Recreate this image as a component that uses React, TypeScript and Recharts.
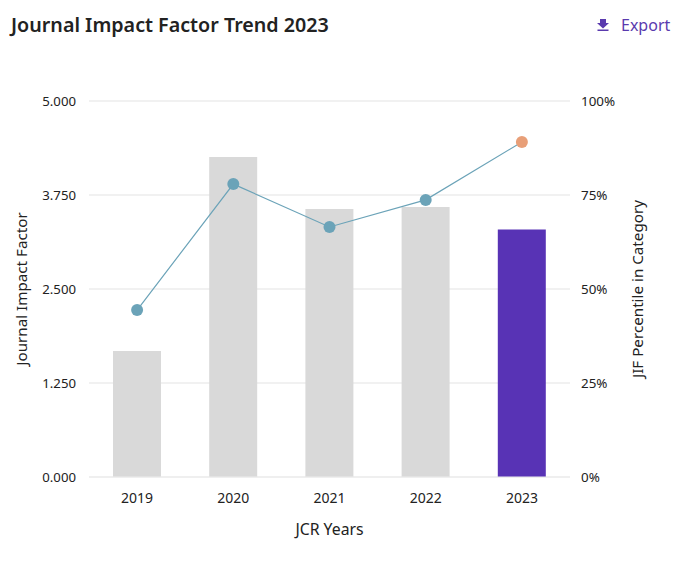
import { ComposedChart, Bar, Line, XAxis, YAxis, CartesianGrid, Cell } from "recharts";

const years = ["2019", "2020", "2021", "2022", "2023"];
const jif = [1.676, 4.255, 3.564, 3.59, 3.29];
const percentile = [44.4, 77.9, 66.5, 73.7, 89.1];
const leftTicks = [0, 1.25, 2.5, 3.75, 5];
const rightTicks = [0, 25, 50, 75, 100];

const data = years.map((year, i) => ({ year, jif: jif[i], percentile: percentile[i] }));
const font = "'Noto Sans', sans-serif";

function Dot(props: any) {
  const { cx, cy, index } = props;
  return <circle cx={cx} cy={cy} r={6} fill={index === 4 ? "#E89F78" : "#6BA3B8"} />;
}

export default function App() {
  return (
    <div style={{ position: "absolute", left: 0, top: 0, width: 680, height: 563, background: "#fff", fontFamily: font }}>
      <div style={{ position: "absolute", left: 11, top: 11, fontSize: 19.7, fontWeight: 600, color: "#222" }}>
        Journal Impact Factor Trend 2023
      </div>
      <div style={{ position: "absolute", left: 596, top: 14, fontSize: 16, color: "#5A3AAE", display: "flex", alignItems: "center" }}>
        <svg width="14" height="14" viewBox="0 0 14 14" style={{ marginRight: 11 }}>
          <path d="M4 1h6v4h3L7 10.5 1 5h3zM1.5 11.5h11V13h-11z" fill="#5A3AAE" />
        </svg>
        Export
      </div>
      <ComposedChart
        width={680}
        height={563}
        data={data}
        margin={{ top: 101, right: 0, bottom: 56, left: 0 }}
        style={{ position: "absolute", left: 0, top: 0 }}
      >
        <CartesianGrid vertical={false} stroke="#EDEDED" strokeWidth={1.5} yAxisId="left" />
        <XAxis
          dataKey="year"
          height={30}
          tick={{ fill: "#222", fontSize: 14 }}
          tickLine={false}
          axisLine={{ stroke: "#EDEDED" }}
          tickMargin={10}
          label={{ value: "JCR Years", position: "insideBottom", offset: -28, fill: "#222", fontSize: 15.8 }}
        />
        <YAxis
          yAxisId="left"
          domain={[0, 5]}
          ticks={leftTicks}
          tickFormatter={(v: number) => v.toFixed(3)}
          tick={{ fill: "#222", fontSize: 13.2 }}
          tickLine={false}
          axisLine={false}
          tickMargin={7}
          width={89}
          label={{ value: "Journal Impact Factor", angle: -90, position: "center", dx: -23, fill: "#222", fontSize: 15.2 }}
        />
        <YAxis
          yAxisId="right"
          orientation="right"
          domain={[0, 100]}
          ticks={rightTicks}
          tickFormatter={(v: number) => v + "%"}
          tick={{ fill: "#222", fontSize: 13.4 }}
          tickLine={false}
          axisLine={false}
          tickMargin={5}
          width={110}
          label={{ value: "JIF Percentile in Category", angle: -90, position: "center", dx: 13, fill: "#222", fontSize: 15.2 }}
        />
        <Bar yAxisId="left" dataKey="jif" barSize={48} isAnimationActive={false}>
          {years.map((y, i) => (
            <Cell key={y} fill={i === 4 ? "#5833B5" : "#D9D9D9"} />
          ))}
        </Bar>
        <Line
          yAxisId="right"
          dataKey="percentile"
          stroke="#6BA3B8"
          strokeWidth={1.2}
          dot={<Dot />}
          activeDot={false}
          isAnimationActive={false}
        />
      </ComposedChart>
    </div>
  );
}
